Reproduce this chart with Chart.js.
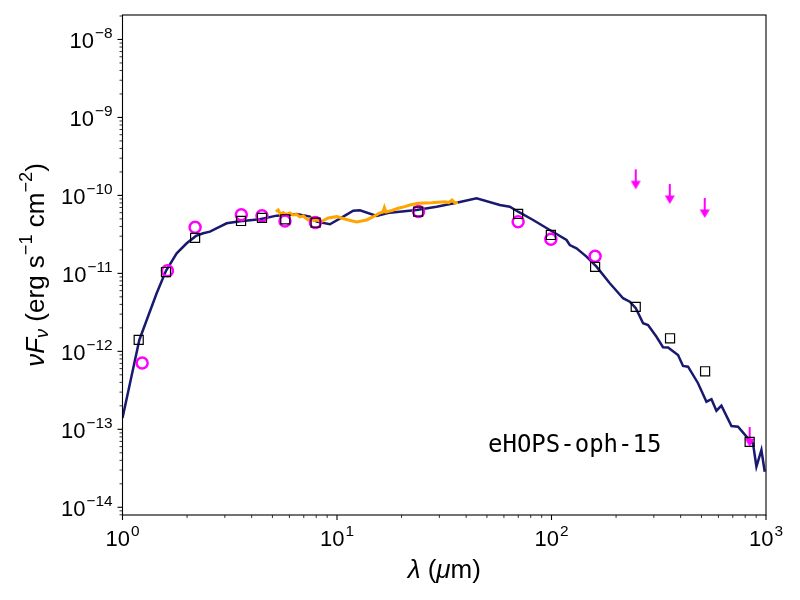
<!DOCTYPE html>
<html><head><meta charset="utf-8">
<script src="https://cdn.jsdelivr.net/npm/chart.js@4.4.1/dist/chart.umd.min.js"></script>
<style>html,body{margin:0;padding:0;background:#fff;}canvas{display:block;}</style>
</head><body>
<canvas id="c" width="800" height="600"></canvas>
<script>
// ---- data ----
const modelWave = [1.0, 1.092, 1.198, 1.297, 1.443, 1.595, 1.789, 1.992, 2.201, 2.379, 2.557, 2.847, 3.06, 3.528, 4.372, 5.232, 6.483, 7.478, 8.035, 9.27, 10.69, 11.9, 12.79, 15.3, 17.64, 23.49, 29.12, 36.08, 44.73, 57.42, 63.93, 69.89, 82.1, 98.2, 117.5, 121.7, 130.8, 145.6, 162.1, 187.0, 215.6, 231.7, 247.2, 267.3, 281.9, 308.6, 331.1, 349.4, 388.9, 410.4, 433.0, 482.1, 527.7, 556.8, 587.4, 619.7, 690.1, 740.6, 824.5, 869.8, 902.2, 952.0, 986.3];
const modelFlux = [1.40e-13, 4.30e-13, 1.40e-12, 2.52e-12, 5.56e-12, 1.08e-11, 1.81e-11, 2.43e-11, 3.02e-11, 3.27e-11, 3.43e-11, 3.97e-11, 4.39e-11, 4.66e-11, 4.94e-11, 5.50e-11, 5.78e-11, 5.34e-11, 4.60e-11, 4.26e-11, 5.34e-11, 6.37e-11, 6.45e-11, 5.45e-11, 6.01e-11, 6.50e-11, 7.17e-11, 8.07e-11, 9.19e-11, 7.54e-11, 7.17e-11, 6.18e-11, 4.84e-11, 3.60e-11, 2.68e-11, 2.31e-11, 2.10e-11, 1.64e-11, 1.22e-11, 7.47e-12, 4.80e-12, 4.34e-12, 3.57e-12, 2.29e-12, 2.18e-12, 1.54e-12, 1.13e-12, 1.12e-12, 8.99e-13, 6.50e-13, 6.35e-13, 3.90e-13, 2.26e-13, 2.43e-13, 1.73e-13, 2.01e-13, 1.10e-13, 1.08e-13, 7.67e-14, 6.62e-14, 3.32e-14, 5.43e-14, 2.86e-14];

const specWave = [5.19, 5.32, 5.45, 5.61, 5.80, 6.03, 6.25, 6.48, 6.70, 6.96, 7.15, 7.34, 7.61, 7.80, 8.04, 8.48, 9.10, 9.96, 11.08, 12.34, 13.74, 14.70, 15.68, 16.37, 16.63, 16.90, 18.03, 19.28, 20.72, 21.86, 23.89, 27.60, 31.83, 33.2, 34.42, 35.43, 36.59];
const specFlux = [6.19e-11, 6.51e-11, 5.75e-11, 6.05e-11, 5.70e-11, 5.95e-11, 5.60e-11, 5.70e-11, 5.30e-11, 5.45e-11, 5.10e-11, 4.84e-11, 5.15e-11, 4.75e-11, 4.84e-11, 4.63e-11, 5.14e-11, 5.34e-11, 4.91e-11, 4.56e-11, 4.84e-11, 5.29e-11, 5.87e-11, 6.13e-11, 7.00e-11, 6.13e-11, 6.41e-11, 6.84e-11, 7.17e-11, 7.54e-11, 7.93e-11, 8.07e-11, 8.31e-11, 8.10e-11, 8.74e-11, 8.00e-11, 8.12e-11];

const obsWave = [1.235, 1.62, 2.18, 3.58, 4.47, 5.72, 7.93, 24.0, 69.9, 99.3, 159.7];
const obsFlux = [7.1e-13, 1.08e-11, 3.90e-11, 5.66e-11, 5.50e-11, 4.70e-11, 4.50e-11, 6.20e-11, 4.60e-11, 2.74e-11, 1.66e-11];

const synWave = [1.19, 1.595, 2.18, 3.57, 4.47, 5.74, 7.95, 23.9, 69.9, 99.3, 159.7, 247, 357, 520, 839];
const synFlux = [1.40e-12, 1.04e-11, 2.85e-11, 4.70e-11, 5.14e-11, 4.94e-11, 4.47e-11, 6.20e-11, 5.78e-11, 3.11e-11, 1.21e-11, 3.71e-12, 1.47e-12, 5.55e-13, 6.9e-14];

const limWave = [247, 356, 518, 839];
const limFlux = [2.16e-10, 1.40e-10, 9.27e-11, 1.07e-13];

const xTicks = [1, 10, 100, 1000];
const yTicks = [1e-14, 1e-13, 1e-12, 1e-11, 1e-10, 1e-9, 1e-8];
const xRange = [1, 1000];
const yRange = [7.96e-15, 2.06e-8];
const sourceName = 'eHOPS-oph-15';

// ---- helpers ----
function pts(xs, ys){ return xs.map((x, i) => ({x: x, y: ys[i]})); }
function expOf(v){ return Math.round(Math.log10(v)); }
function powLabel(v){ return '10^' + expOf(v); }

const MAG = '#ff00ff';
const arrowImg = (function(){
  const c = document.createElement('canvas'); c.width = 12; c.height = 44;
  const g = c.getContext('2d');
  g.strokeStyle = MAG; g.lineWidth = 2;
  g.beginPath(); g.moveTo(6, 22); g.lineTo(6, 35); g.stroke();
  g.fillStyle = MAG; g.beginPath(); g.moveTo(1, 33.5); g.lineTo(11, 33.5); g.lineTo(6, 42); g.closePath(); g.fill();
  return c;
})();

const SANS = "'Liberation Sans', Arial, Helvetica, sans-serif";
const TICK_SIZE = 22;
const TITLE_SIZE = 26;

function drawRuns(g, runs, size){
  let total = 0;
  const items = runs.map(r => {
    const fs = r.s ? size * 0.7 : size;
    const font = (r.i ? 'italic ' : '') + fs + 'px ' + SANS;
    g.font = font;
    const w = g.measureText(r.t).width;
    total += w;
    return {r, font, w};
  });
  let x = -total / 2;
  items.forEach(it => {
    g.font = it.font;
    let dy = 0;
    if (it.r.s === 'sub') dy = size * 0.22;
    if (it.r.s === 'sup') dy = -size * 0.38;
    g.fillText(it.r.t, x, dy);
    x += it.w;
  });
}

// draws "10" with a raised exponent; anchor: 'right' or 'center'
function drawPow(g, v, x, baseline, anchor){
  const main = '10', ex = String(expOf(v)).replace('-', '\u2212');
  g.font = TICK_SIZE + 'px ' + SANS;
  const wm = g.measureText(main).width;
  const fsE = TICK_SIZE * 0.7;
  g.font = fsE + 'px ' + SANS;
  const we = g.measureText(ex).width;
  const total = wm + we + 1;
  const x0 = anchor === 'right' ? x - total : x - total / 2;
  g.font = TICK_SIZE + 'px ' + SANS;
  g.fillText(main, x0, baseline);
  g.font = fsE + 'px ' + SANS;
  g.fillText(ex, x0 + wm + 1, baseline - TICK_SIZE * 0.45);
}

const decor = {
  id: 'decor',
  afterDraw(chart){
    const g = chart.ctx;
    const a = chart.chartArea;
    const xs = chart.scales.x, ys = chart.scales.y;
    g.save();
    g.strokeStyle = '#000';
    g.fillStyle = '#000';
    function eachTick(scale, lo, hi, fn){
      for (let k = Math.floor(Math.log10(lo)); k <= Math.ceil(Math.log10(hi)); k++) {
        for (let m = 1; m <= 9; m++) {
          const v = m * Math.pow(10, k);
          if (v < lo * 0.9999 || v > hi * 1.0001) continue;
          fn(scale.getPixelForValue(v), m === 1);
        }
      }
    }
    eachTick(xs, xRange[0], xRange[1], (p, major) => {
      g.lineWidth = major ? 1.1 : 0.8;
      const L = major ? 5 : 3;
      g.beginPath(); g.moveTo(p, a.bottom); g.lineTo(p, a.bottom + L); g.stroke();
    });
    eachTick(ys, yRange[0], yRange[1], (p, major) => {
      g.lineWidth = major ? 1.1 : 0.8;
      const L = major ? 5 : 3;
      g.beginPath(); g.moveTo(a.left, p); g.lineTo(a.left - L, p); g.stroke();
    });
    g.lineWidth = 1.1;
    g.strokeRect(a.left, a.top, a.right - a.left, a.bottom - a.top);
    // tick labels from the scales' own ticks
    g.textAlign = 'left';
    g.textBaseline = 'alphabetic';
    xs.ticks.forEach(t => drawPow(g, t.value, xs.getPixelForValue(t.value), a.bottom + 30.5, 'center'));
    ys.ticks.forEach(t => drawPow(g, t.value, a.left - 10, ys.getPixelForValue(t.value) + 8.3, 'right'));
    // axis titles
    g.textBaseline = 'middle';
    g.save();
    g.translate((a.left + a.right) / 2, 571);
    drawRuns(g, [{t:'\u03BB', i:true}, {t:' ('}, {t:'\u03BC', i:true}, {t:'m)'}], TITLE_SIZE);
    g.restore();
    g.save();
    g.translate(37, (a.top + a.bottom) / 2);
    g.rotate(-Math.PI / 2);
    drawRuns(g, [{t:'\u03BDF', i:true}, {t:'\u03BD', i:true, s:'sub'}, {t:' (erg s'}, {t:'\u22121', s:'sup'}, {t:' cm'}, {t:'\u22122', s:'sup'}, {t:')'}], TITLE_SIZE);
    g.restore();
    // annotation
    g.font = "24px 'DejaVu Sans Mono', monospace";
    g.textBaseline = 'alphabetic';
    g.fillText(sourceName, 488, 452);
    g.restore();
  }
};

new Chart(document.getElementById('c'), {
  type: 'scatter',
  data: { datasets: [
    { label: 'model photometry', data: pts(synWave, synFlux), showLine: false,
      pointStyle: 'rect', pointRadius: 6.4, pointBorderWidth: 1.2,
      pointBorderColor: '#000', pointBackgroundColor: 'rgba(0,0,0,0)' },
    { label: 'upper limits', data: pts(limWave, limFlux), showLine: false,
      pointStyle: arrowImg, pointRadius: 10 },
    { label: 'photometry', data: pts(obsWave, obsFlux), showLine: false,
      pointStyle: 'circle', pointRadius: 5.5, pointBorderWidth: 2.5,
      pointBorderColor: MAG, pointBackgroundColor: 'rgba(0,0,0,0)' },
    { label: 'spectrum', data: pts(specWave, specFlux), showLine: true,
      borderColor: '#ffa500', borderWidth: 3, pointRadius: 0, tension: 0 },
    { label: 'model', data: pts(modelWave, modelFlux), showLine: true,
      borderColor: '#191970', borderWidth: 2.5, pointRadius: 0, tension: 0 }
  ]},
  options: {
    responsive: false, animation: false, devicePixelRatio: 1,
    layout: { padding: { left: 0, top: 15, right: 34, bottom: 0 } },
    plugins: { legend: { display: false }, tooltip: { enabled: false } },
    scales: {
      x: {
        type: 'logarithmic', min: xRange[0], max: xRange[1],
        afterBuildTicks: s => { s.ticks = xTicks.map(v => ({ value: v })); },
        afterFit: s => { s.height = 85; },
        grid: { display: false },
        border: { display: false },
        ticks: { display: false, callback: v => powLabel(v) }
      },
      y: {
        type: 'logarithmic', min: yRange[0], max: yRange[1],
        afterBuildTicks: s => { s.ticks = yTicks.map(v => ({ value: v })); },
        afterFit: s => { s.width = 122.5; },
        grid: { display: false },
        border: { display: false },
        ticks: { display: false, callback: v => powLabel(v) }
      }
    }
  },
  plugins: [decor]
});
</script>
</body></html>
